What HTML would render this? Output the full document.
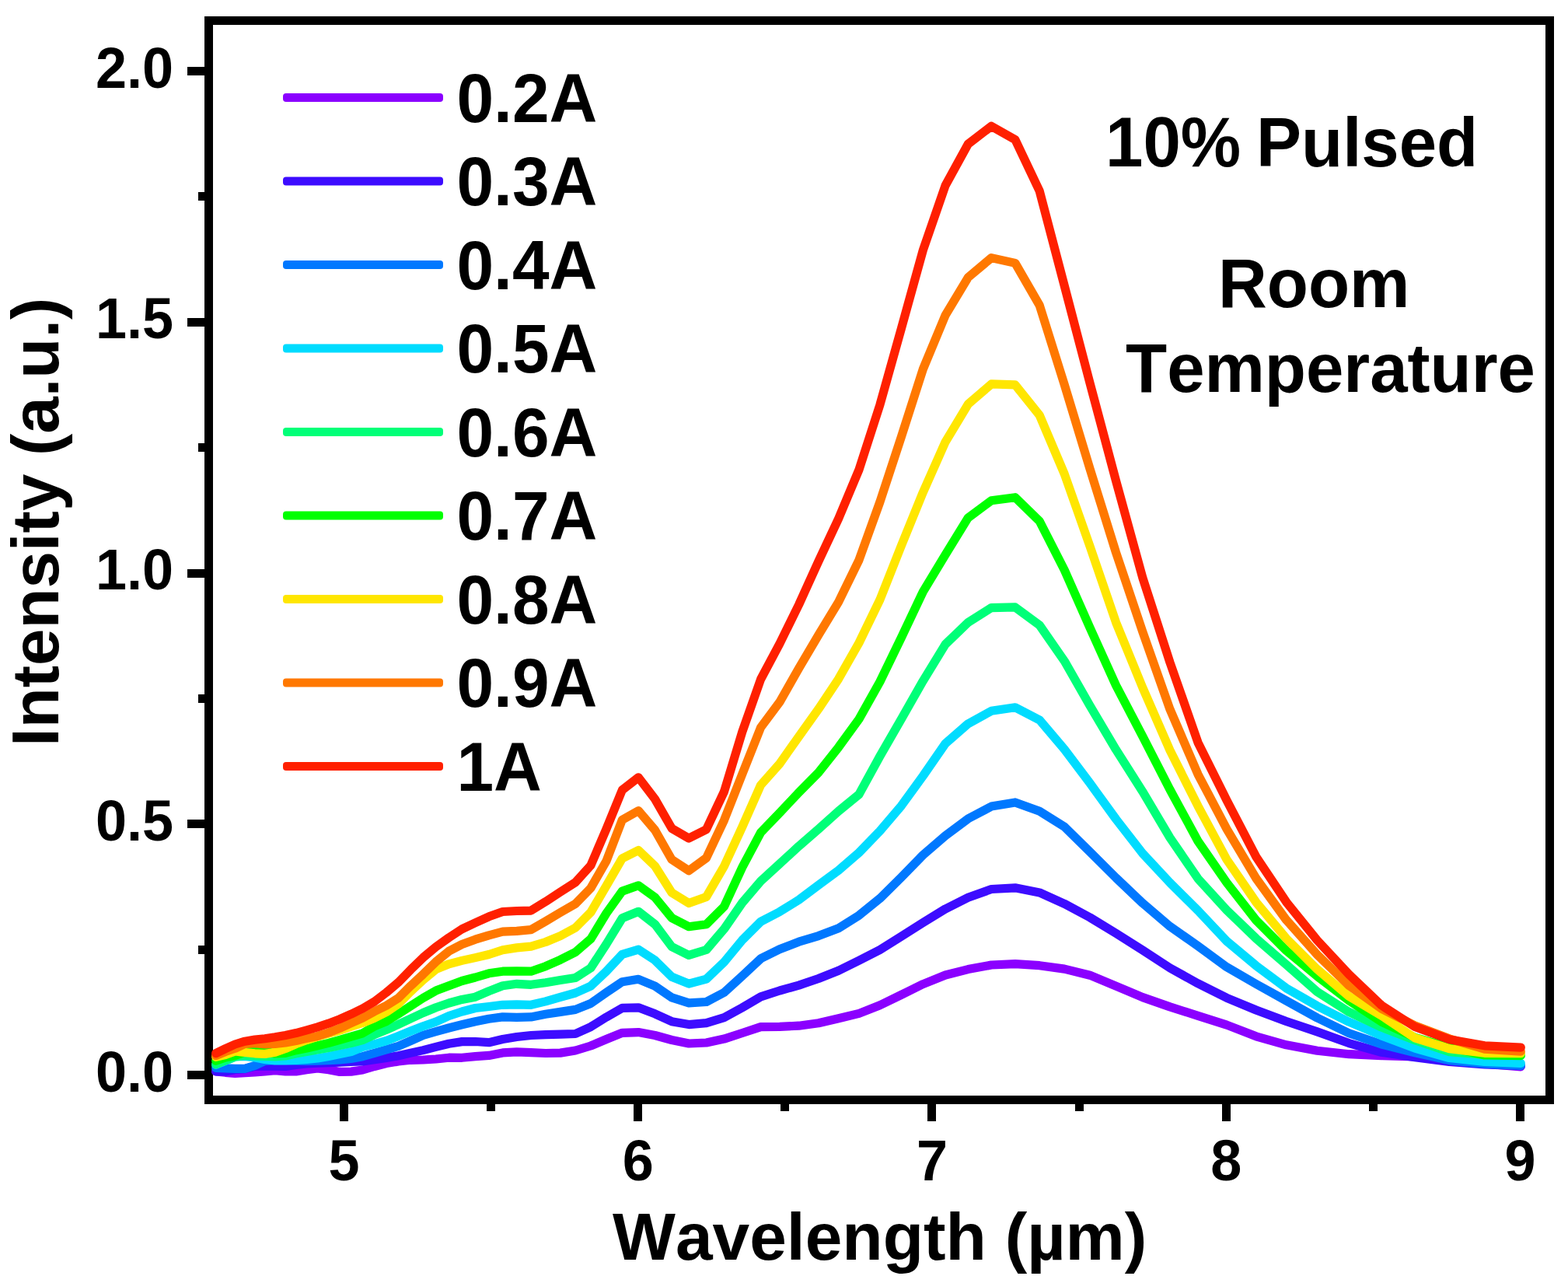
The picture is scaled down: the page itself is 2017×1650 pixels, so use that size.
<!DOCTYPE html>
<html lang="en">
<head>
<meta charset="utf-8">
<title>Emission spectra - 10% Pulsed, Room Temperature</title>
<style>
html,body{margin:0;padding:0;background:#fff;}
body{width:2017px;height:1650px;overflow:hidden;}
svg{display:block;}
text{font-family:"Liberation Sans",Arial,Helvetica,sans-serif;font-weight:bold;fill:#000;font-kerning:none;}
.tick{font-size:72px;}
.ytl{font-size:85.2px;}
.ttl{font-size:85.7px;}
.leg{font-size:85.6px;}
.ann{font-size:87px;}
.c{fill:none;stroke-width:11.2;stroke-linejoin:round;stroke-linecap:round;}
</style>
</head>
<body>
<svg xmlns="http://www.w3.org/2000/svg" width="2017" height="1650" viewBox="0 0 2017 1650">
<rect x="0" y="0" width="2017" height="1650" fill="#fff"/>
<g fill="#000" shape-rendering="crispEdges">
<rect x="263" y="21.2" width="1736" height="11"/>
<rect x="263" y="1409" width="1736" height="11"/>
<rect x="263" y="21.2" width="11" height="1398.8"/>
<rect x="1988" y="21.2" width="11" height="1398.8"/>
<rect x="241" y="1377.00" width="22" height="11"/>
<rect x="241" y="1054.25" width="22" height="11"/>
<rect x="241" y="731.50" width="22" height="11"/>
<rect x="241" y="408.75" width="22" height="11"/>
<rect x="241" y="86.00" width="22" height="11"/>
<rect x="254.5" y="1215.62" width="8.5" height="11"/>
<rect x="254.5" y="892.88" width="8.5" height="11"/>
<rect x="254.5" y="570.12" width="8.5" height="11"/>
<rect x="254.5" y="247.38" width="8.5" height="11"/>
<rect x="436.90" y="1420" width="11" height="22"/>
<rect x="815.15" y="1420" width="11" height="22"/>
<rect x="1193.40" y="1420" width="11" height="22"/>
<rect x="1571.65" y="1420" width="11" height="22"/>
<rect x="1949.90" y="1420" width="11" height="22"/>
<rect x="626.02" y="1420" width="11" height="8.5"/>
<rect x="1004.27" y="1420" width="11" height="8.5"/>
<rect x="1382.53" y="1420" width="11" height="8.5"/>
<rect x="1760.78" y="1420" width="11" height="8.5"/>
</g>
<g class="tick">
<text transform="translate(223.00,1403.70) scale(1,1.035)" text-anchor="end">0.0</text>
<text transform="translate(223.00,1080.95) scale(1,1.035)" text-anchor="end">0.5</text>
<text transform="translate(223.00,758.20) scale(1,1.035)" text-anchor="end">1.0</text>
<text transform="translate(223.00,435.45) scale(1,1.035)" text-anchor="end">1.5</text>
<text transform="translate(223.00,112.70) scale(1,1.035)" text-anchor="end">2.0</text>
<text transform="translate(442.40,1517.50) scale(1,1.035)" text-anchor="middle">5</text>
<text transform="translate(820.65,1517.50) scale(1,1.035)" text-anchor="middle">6</text>
<text transform="translate(1198.90,1517.50) scale(1,1.035)" text-anchor="middle">7</text>
<text transform="translate(1577.15,1517.50) scale(1,1.035)" text-anchor="middle">8</text>
<text transform="translate(1955.40,1517.50) scale(1,1.035)" text-anchor="middle">9</text>
</g>
<text transform="translate(788.00,1620.00) scale(1,1.0)" class="ttl">Wavelength (µm)</text>
<text transform="translate(74.80,960.00) rotate(-90) scale(1,1.0)" class="ytl">Intensity (a.u.)</text>
<g class="c">
<polyline stroke="#8B00FF" points="277.7,1377.9 290.0,1379.3 302.4,1380.3 315.0,1379.6 327.8,1379.0 340.7,1377.9 353.9,1376.7 367.2,1377.9 380.8,1377.9 394.5,1375.7 408.5,1373.9 422.7,1375.7 437.1,1378.4 451.7,1378.1 466.5,1376.0 481.6,1371.5 497.0,1367.6 512.5,1365.0 528.3,1363.3 544.4,1363.0 560.7,1362.0 577.4,1360.2 594.2,1360.3 611.4,1358.6 628.9,1357.4 646.6,1353.9 664.7,1352.9 683.1,1353.7 701.8,1354.5 720.8,1354.1 740.2,1351.0 759.9,1345.0 780.0,1336.5 800.4,1328.3 821.3,1327.6 842.5,1331.5 864.1,1337.5 886.1,1342.0 908.6,1341.0 931.5,1336.1 954.8,1328.5 978.6,1320.6 1002.9,1320.4 1027.6,1319.2 1052.9,1315.7 1078.7,1309.7 1105.0,1303.4 1131.9,1292.8 1159.4,1279.4 1187.4,1265.6 1216.1,1254.0 1245.3,1246.6 1275.3,1241.0 1305.9,1239.6 1337.2,1241.7 1369.2,1246.1 1402.0,1254.2 1435.5,1268.1 1469.9,1282.6 1505.0,1294.9 1541.0,1306.4 1578.0,1318.1 1615.8,1332.8 1654.6,1343.8 1694.4,1351.3 1735.2,1355.7 1777.1,1357.6 1820.1,1359.0 1864.3,1363.5 1909.7,1368.0 1956.3,1371.8"/>
<polyline stroke="#3D0CFF" points="277.7,1377.9 290.0,1377.9 302.4,1375.5 315.0,1374.7 327.8,1371.4 340.7,1370.9 353.9,1371.1 367.2,1371.4 380.8,1369.4 394.5,1367.9 408.5,1367.1 422.7,1366.7 437.1,1366.1 451.7,1365.4 466.5,1365.0 481.6,1362.8 497.0,1360.4 512.5,1357.7 528.3,1354.1 544.4,1350.6 560.7,1346.4 577.4,1342.2 594.2,1339.6 611.4,1339.5 628.9,1340.7 646.6,1336.5 664.7,1333.5 683.1,1331.5 701.8,1330.7 720.8,1330.1 740.2,1329.5 759.9,1320.6 780.0,1308.1 800.4,1296.4 821.3,1295.8 842.5,1303.8 864.1,1313.7 886.1,1317.6 908.6,1315.7 931.5,1308.7 954.8,1295.8 978.6,1281.9 1002.9,1274.0 1027.6,1267.1 1052.9,1258.5 1078.7,1248.2 1105.0,1235.3 1131.9,1221.5 1159.4,1204.2 1187.4,1186.4 1216.1,1168.9 1245.3,1154.3 1275.3,1143.5 1305.9,1141.8 1337.2,1147.9 1369.2,1162.3 1402.0,1179.9 1435.5,1200.3 1469.9,1222.1 1505.0,1244.9 1541.0,1264.8 1578.0,1283.3 1615.8,1299.0 1654.6,1313.5 1694.4,1326.9 1735.2,1341.6 1777.1,1353.3 1820.1,1359.7 1864.3,1365.5 1909.7,1368.8 1956.3,1370.7"/>
<polyline stroke="#0078FF" points="277.7,1373.4 290.0,1373.9 302.4,1374.4 315.0,1374.4 327.8,1370.4 340.7,1364.5 353.9,1363.6 367.2,1363.7 380.8,1364.2 394.5,1364.4 408.5,1364.1 422.7,1363.7 437.1,1362.9 451.7,1361.5 466.5,1358.7 481.6,1354.3 497.0,1349.9 512.5,1345.4 528.3,1338.5 544.4,1331.3 560.7,1326.7 577.4,1322.0 594.2,1317.8 611.4,1313.7 628.9,1310.2 646.6,1307.9 664.7,1308.3 683.1,1307.9 701.8,1304.3 720.8,1301.4 740.2,1298.4 759.9,1290.5 780.0,1276.4 800.4,1262.7 821.3,1259.3 842.5,1268.1 864.1,1282.9 886.1,1289.9 908.6,1288.5 931.5,1276.4 954.8,1255.2 978.6,1232.8 1002.9,1220.7 1027.6,1211.2 1052.9,1203.6 1078.7,1193.7 1105.0,1177.2 1131.9,1155.4 1159.4,1128.2 1187.4,1099.5 1216.1,1074.7 1245.3,1052.9 1275.3,1037.1 1305.9,1031.9 1337.2,1043.2 1369.2,1063.3 1402.0,1095.6 1435.5,1128.9 1469.9,1161.6 1505.0,1191.4 1541.0,1216.6 1578.0,1243.7 1615.8,1265.5 1654.6,1287.0 1694.4,1309.0 1735.2,1328.7 1777.1,1343.0 1820.1,1353.9 1864.3,1363.6 1909.7,1368.0 1956.3,1370.5"/>
<polyline stroke="#00DCFF" points="277.7,1369.4 290.0,1364.4 302.4,1359.0 315.0,1358.5 327.8,1360.0 340.7,1362.4 353.9,1363.9 367.2,1363.9 380.8,1363.4 394.5,1362.4 408.5,1361.0 422.7,1358.5 437.1,1355.5 451.7,1352.5 466.5,1346.5 481.6,1342.9 497.0,1338.5 512.5,1332.5 528.3,1326.0 544.4,1319.7 560.7,1314.1 577.4,1306.5 594.2,1301.0 611.4,1296.5 628.9,1294.5 646.6,1292.3 664.7,1291.9 683.1,1292.3 701.8,1287.9 720.8,1282.3 740.2,1277.0 759.9,1268.1 780.0,1249.2 800.4,1227.4 821.3,1221.1 842.5,1234.9 864.1,1256.2 886.1,1265.1 908.6,1259.1 931.5,1237.3 954.8,1209.0 978.6,1185.2 1002.9,1172.6 1027.6,1157.3 1052.9,1138.2 1078.7,1119.3 1105.0,1096.5 1131.9,1068.7 1159.4,1036.3 1187.4,997.8 1216.1,956.2 1245.3,930.8 1275.3,914.3 1305.9,909.8 1337.2,925.9 1369.2,963.6 1402.0,1007.2 1435.5,1053.4 1469.9,1097.6 1505.0,1135.2 1541.0,1171.0 1578.0,1210.4 1615.8,1241.9 1654.6,1270.8 1694.4,1293.7 1735.2,1314.2 1777.1,1331.9 1820.1,1348.1 1864.3,1360.5 1909.7,1365.5 1956.3,1367.4"/>
<polyline stroke="#00FF78" points="277.7,1368.9 290.0,1363.9 302.4,1359.0 315.0,1357.5 327.8,1357.8 340.7,1358.5 353.9,1358.8 367.2,1358.0 380.8,1355.0 394.5,1352.5 408.5,1350.0 422.7,1347.5 437.1,1344.6 451.7,1341.6 466.5,1337.6 481.6,1330.6 497.0,1324.3 512.5,1317.4 528.3,1310.0 544.4,1302.5 560.7,1295.8 577.4,1290.0 594.2,1285.4 611.4,1282.2 628.9,1274.6 646.6,1267.7 664.7,1265.3 683.1,1266.3 701.8,1263.7 720.8,1260.5 740.2,1257.5 759.9,1244.9 780.0,1214.1 800.4,1180.8 821.3,1172.3 842.5,1188.7 864.1,1217.5 886.1,1228.4 908.6,1221.5 931.5,1194.7 954.8,1161.0 978.6,1133.2 1002.9,1110.8 1027.6,1088.2 1052.9,1066.3 1078.7,1043.2 1105.0,1021.6 1131.9,972.5 1159.4,924.8 1187.4,875.6 1216.1,828.6 1245.3,800.5 1275.3,781.6 1305.9,780.9 1337.2,804.0 1369.2,850.1 1402.0,907.6 1435.5,964.1 1469.9,1018.2 1505.0,1077.3 1541.0,1129.9 1578.0,1170.5 1615.8,1206.9 1654.6,1240.6 1694.4,1275.5 1735.2,1301.4 1777.1,1321.1 1820.1,1337.8 1864.3,1352.7 1909.7,1356.5 1956.3,1357.0"/>
<polyline stroke="#00FF00" points="277.7,1364.2 290.0,1360.0 302.4,1357.5 315.0,1353.3 327.8,1351.5 340.7,1352.0 353.9,1355.0 367.2,1354.3 380.8,1350.7 394.5,1348.0 408.5,1344.8 422.7,1341.4 437.1,1337.4 451.7,1333.1 466.5,1328.8 481.6,1319.9 497.0,1313.5 512.5,1303.9 528.3,1293.7 544.4,1283.4 560.7,1274.1 577.4,1267.8 594.2,1261.5 611.4,1257.0 628.9,1251.8 646.6,1249.2 664.7,1248.8 683.1,1249.2 701.8,1242.7 720.8,1234.3 740.2,1224.4 759.9,1207.6 780.0,1174.5 800.4,1146.1 821.3,1138.8 842.5,1154.0 864.1,1180.4 886.1,1191.7 908.6,1188.7 931.5,1165.9 954.8,1115.4 978.6,1070.7 1002.9,1045.3 1027.6,1019.2 1052.9,993.5 1078.7,960.9 1105.0,924.8 1131.9,876.8 1159.4,820.0 1187.4,760.8 1216.1,713.4 1245.3,665.9 1275.3,643.7 1305.9,639.7 1337.2,670.2 1369.2,733.0 1402.0,807.3 1435.5,881.4 1469.9,947.2 1505.0,1015.5 1541.0,1081.7 1578.0,1135.1 1615.8,1183.5 1654.6,1222.5 1694.4,1255.5 1735.2,1286.7 1777.1,1314.1 1820.1,1334.3 1864.3,1346.7 1909.7,1357.0 1956.3,1357.6"/>
<polyline stroke="#FFE600" points="277.7,1359.3 290.0,1356.5 302.4,1352.0 315.0,1353.5 327.8,1354.8 340.7,1355.5 353.9,1353.3 367.2,1348.5 380.8,1342.6 394.5,1337.6 408.5,1333.1 422.7,1329.1 437.1,1325.2 451.7,1320.2 466.5,1315.5 481.6,1309.3 497.0,1301.5 512.5,1291.1 528.3,1275.1 544.4,1260.1 560.7,1246.6 577.4,1239.8 594.2,1235.4 611.4,1231.6 628.9,1227.5 646.6,1221.7 664.7,1218.9 683.1,1217.1 701.8,1211.5 720.8,1203.6 740.2,1193.1 759.9,1173.3 780.0,1139.2 800.4,1103.9 821.3,1093.5 842.5,1113.8 864.1,1148.1 886.1,1161.6 908.6,1153.4 931.5,1114.0 954.8,1063.3 978.6,1009.6 1002.9,982.2 1027.6,947.2 1052.9,911.8 1078.7,873.1 1105.0,826.8 1131.9,771.3 1159.4,701.7 1187.4,632.9 1216.1,568.3 1245.3,519.8 1275.3,493.9 1305.9,494.9 1337.2,534.0 1369.2,609.5 1402.0,702.5 1435.5,800.3 1469.9,884.5 1505.0,965.1 1541.0,1036.6 1578.0,1105.4 1615.8,1160.3 1654.6,1206.9 1694.4,1246.6 1735.2,1281.3 1777.1,1306.1 1820.1,1334.8 1864.3,1348.7 1909.7,1354.3 1956.3,1354.7"/>
<polyline stroke="#FF7800" points="277.7,1357.5 290.0,1352.5 302.4,1348.3 315.0,1342.5 327.8,1341.6 340.7,1342.9 353.9,1342.5 367.2,1341.0 380.8,1338.5 394.5,1335.4 408.5,1332.4 422.7,1328.0 437.1,1322.4 451.7,1315.7 466.5,1309.1 481.6,1300.8 497.0,1293.3 512.5,1283.5 528.3,1267.8 544.4,1252.8 560.7,1236.9 577.4,1223.3 594.2,1214.5 611.4,1208.2 628.9,1202.8 646.6,1198.2 664.7,1197.3 683.1,1195.7 701.8,1184.8 720.8,1173.5 740.2,1162.4 759.9,1142.1 780.0,1107.2 800.4,1054.3 821.3,1042.7 842.5,1067.5 864.1,1105.4 886.1,1119.7 908.6,1103.4 931.5,1054.8 954.8,995.5 978.6,935.5 1002.9,902.9 1027.6,859.4 1052.9,816.7 1078.7,774.1 1105.0,720.2 1131.9,645.5 1159.4,561.7 1187.4,474.5 1216.1,405.4 1245.3,356.8 1275.3,331.6 1305.9,338.4 1337.2,392.6 1369.2,494.6 1402.0,602.9 1435.5,710.5 1469.9,812.7 1505.0,912.3 1541.0,995.8 1578.0,1066.1 1615.8,1129.6 1654.6,1183.1 1694.4,1227.7 1735.2,1267.4 1777.1,1297.2 1820.1,1319.0 1864.3,1335.8 1909.7,1349.1 1956.3,1352.1"/>
<polyline stroke="#FF2000" points="277.7,1354.6 290.0,1348.6 302.4,1343.0 315.0,1339.2 327.8,1337.1 340.7,1335.8 353.9,1333.8 367.2,1331.4 380.8,1328.6 394.5,1324.9 408.5,1320.8 422.7,1316.2 437.1,1310.6 451.7,1304.2 466.5,1297.0 481.6,1288.1 497.0,1276.4 512.5,1263.3 528.3,1247.1 544.4,1231.4 560.7,1217.8 577.4,1205.9 594.2,1194.9 611.4,1186.7 628.9,1178.8 646.6,1172.5 664.7,1171.5 683.1,1171.1 701.8,1159.6 720.8,1147.1 740.2,1134.8 759.9,1113.0 780.0,1066.0 800.4,1016.0 821.3,999.8 842.5,1027.6 864.1,1065.3 886.1,1078.1 908.6,1066.7 931.5,1018.0 954.8,941.1 978.6,873.5 1002.9,827.9 1027.6,777.6 1052.9,721.9 1078.7,666.8 1105.0,604.0 1131.9,520.6 1159.4,422.4 1187.4,321.5 1216.1,238.5 1245.3,185.2 1275.3,162.3 1305.9,179.7 1337.2,245.7 1369.2,367.5 1402.0,492.6 1435.5,618.2 1469.9,743.2 1505.0,852.0 1541.0,954.9 1578.0,1029.2 1615.8,1101.8 1654.6,1159.9 1694.4,1209.2 1735.2,1253.1 1777.1,1292.9 1820.1,1320.6 1864.3,1336.8 1909.7,1344.8 1956.3,1347.1"/>
</g>
<g class="leg">
<rect x="364" y="120.10" width="206" height="11" rx="4" fill="#8B00FF"/>
<text transform="translate(587.50,156.70) scale(1,1.04)">0.2A</text>
<rect x="364" y="227.60" width="206" height="11" rx="4" fill="#3D0CFF"/>
<text transform="translate(587.50,264.20) scale(1,1.04)">0.3A</text>
<rect x="364" y="335.10" width="206" height="11" rx="4" fill="#0078FF"/>
<text transform="translate(587.50,371.70) scale(1,1.04)">0.4A</text>
<rect x="364" y="442.60" width="206" height="11" rx="4" fill="#00DCFF"/>
<text transform="translate(587.50,479.20) scale(1,1.04)">0.5A</text>
<rect x="364" y="550.10" width="206" height="11" rx="4" fill="#00FF78"/>
<text transform="translate(587.50,586.70) scale(1,1.04)">0.6A</text>
<rect x="364" y="657.60" width="206" height="11" rx="4" fill="#00FF00"/>
<text transform="translate(587.50,694.20) scale(1,1.04)">0.7A</text>
<rect x="364" y="765.10" width="206" height="11" rx="4" fill="#FFE600"/>
<text transform="translate(587.50,801.70) scale(1,1.04)">0.8A</text>
<rect x="364" y="872.60" width="206" height="11" rx="4" fill="#FF7800"/>
<text transform="translate(587.50,909.20) scale(1,1.04)">0.9A</text>
<rect x="364" y="980.10" width="206" height="11" rx="4" fill="#FF2000"/>
<text transform="translate(587.50,1016.70) scale(1,1.04)">1A</text>
</g>
<g class="ann">
<text transform="translate(1422.00,214.00) scale(1,1.04)">10%</text>
<text transform="translate(1616.00,214.00) scale(1,1.02)">Pulsed</text>
<text transform="translate(1567.00,394.90) scale(1,1.02)">Room</text>
<text transform="translate(1448.00,503.70) scale(1,1.02)">Temperature</text>
</g>
</svg>
</body>
</html>
